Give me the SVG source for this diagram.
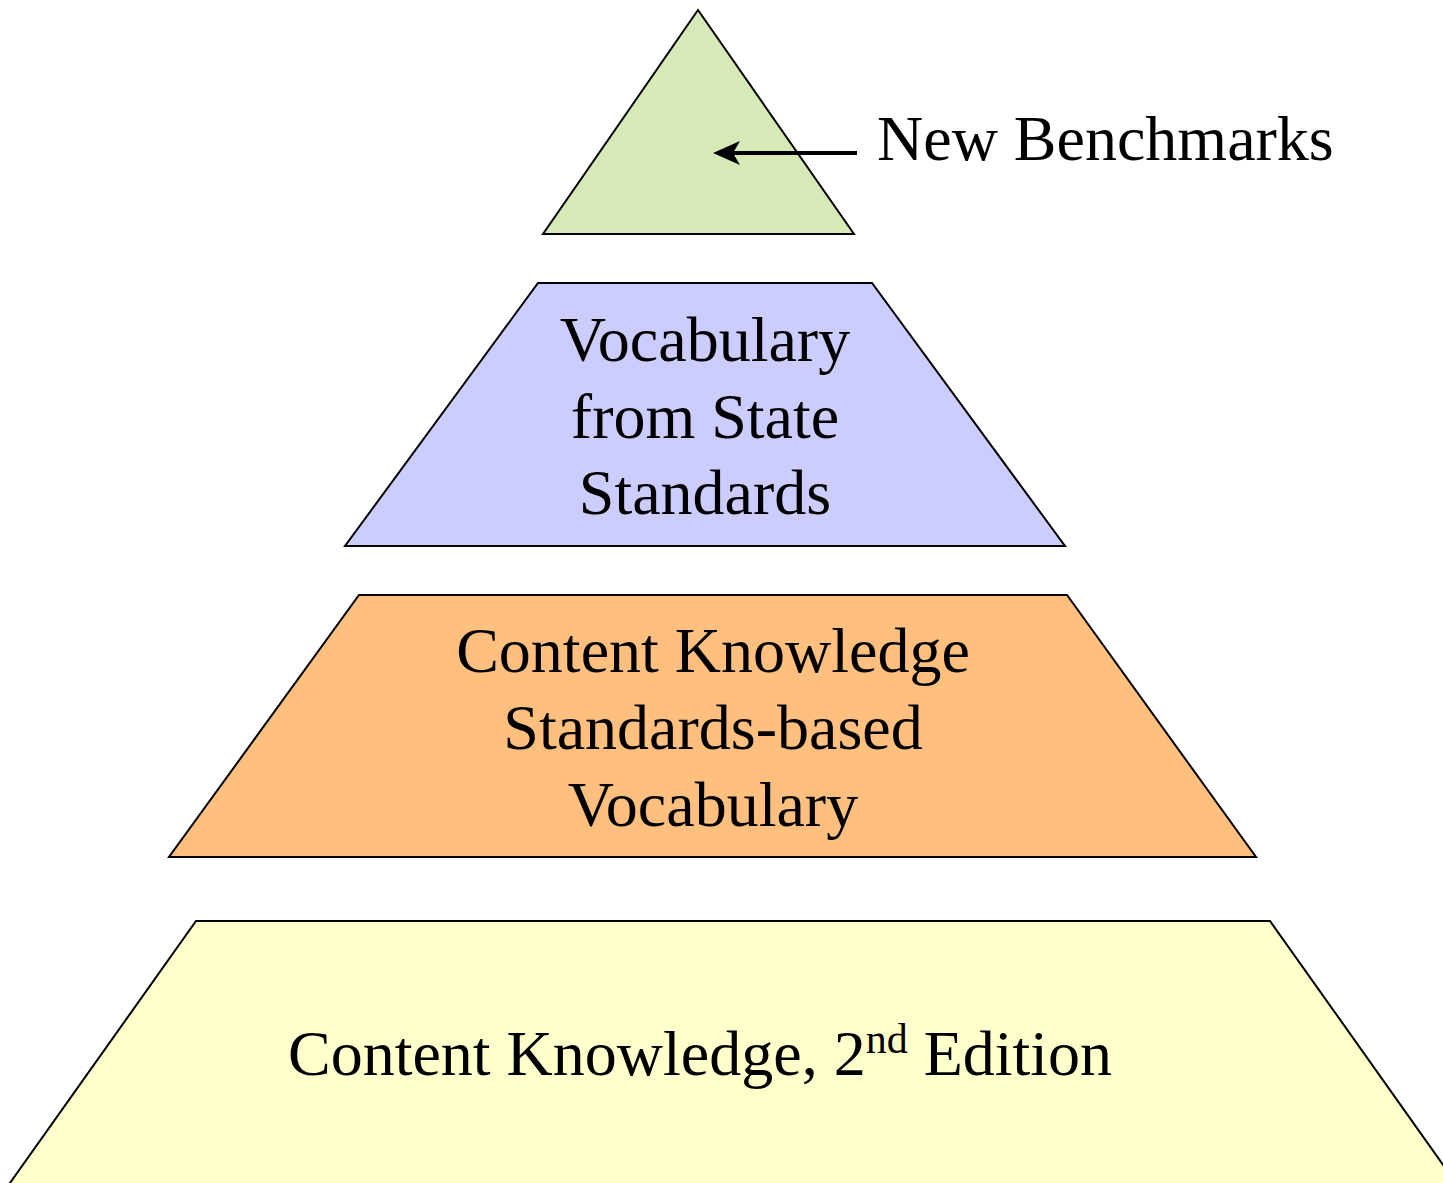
<svg xmlns="http://www.w3.org/2000/svg" width="1443" height="1183" viewBox="0 0 1443 1183">
<defs>
<style>
.shape{stroke:#000;stroke-width:2;stroke-linejoin:miter}
.t{font-family:"Liberation Serif","Times New Roman",serif;font-size:64px;fill:#000;text-anchor:middle}
.conn{stroke:#000;stroke-width:4;fill:none}
</style>
</defs>
<rect width="1443" height="1183" fill="#fff"/>
<g id="tier-top">
<polygon class="shape" fill="#D7E9B7" points="698,10 854,234 543,234"/>
</g>
<g id="tier-2">
<polygon class="shape" fill="#CCCCFF" points="538,283 872,283 1065,546 345,546"/>
<text class="t" x="705" y="361">Vocabulary</text>
<text class="t" x="705" y="438">from State</text>
<text class="t" x="705" y="514">Standards</text>
</g>
<g id="tier-3">
<polygon class="shape" fill="#FFBF7F" points="359,595 1067,595 1256,857 169,857"/>
<text class="t" x="713" y="672">Content Knowledge</text>
<text class="t" x="713" y="749">Standards-based</text>
<text class="t" x="713" y="826">Vocabulary</text>
</g>
<g id="tier-bottom">
<polygon class="shape" fill="#FFFFCC" points="196,921 1270,921 1461,1190 5,1190"/>
<text class="t" x="700" y="1075">Content Knowledge, 2<tspan font-size="42" dy="-22">nd</tspan><tspan dy="22"> Edition</tspan></text>
</g>
<g id="label-new-benchmarks">
<text class="t" x="877" y="160" style="text-anchor:start">New Benchmarks</text>
</g>
<g id="connectors">
<line class="conn" x1="857" y1="153" x2="728" y2="153"/>
<path d="M713,153 L740,141 L733,153 L740,165 Z" fill="#000"/>
</g>
</svg>
